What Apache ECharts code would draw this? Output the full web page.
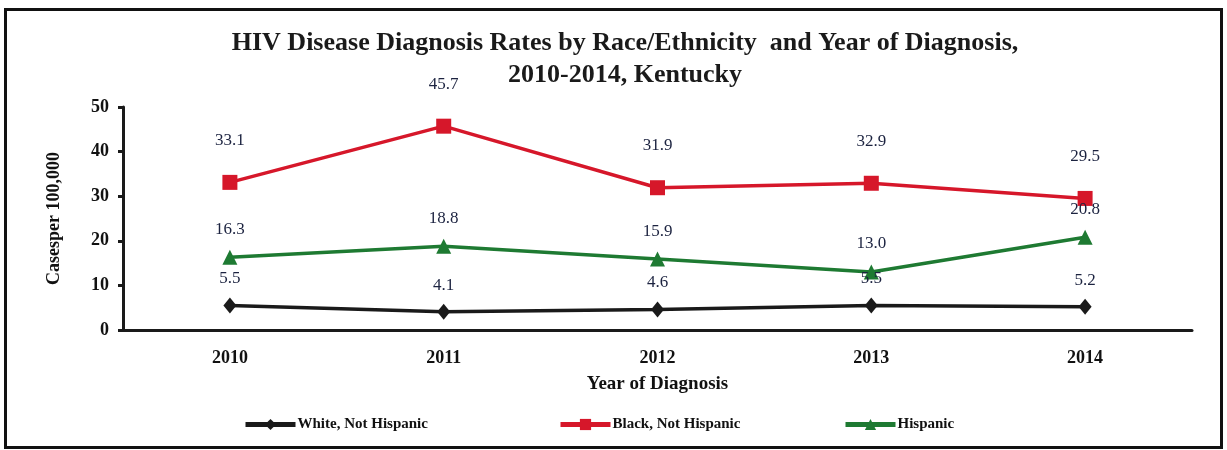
<!DOCTYPE html>
<html>
<head>
<meta charset="utf-8">
<script src="https://cdn.jsdelivr.net/npm/echarts@6/dist/echarts.min.js"></script>
<style>
  html, body { margin: 0; padding: 0; background: #fff; }
  #frame { position: absolute; left: 4px; top: 8px; width: 1213px; height: 435px; border: 3px solid #111; }
  #chart { position: absolute; left: 0; top: 0; width: 1227px; height: 450px; }
</style>
</head>
<body>
<div id="frame"></div>
<div id="chart"></div>
<script>
// Diagnosis years and rates (cases per 100,000)
const years = ['2010', '2011', '2012', '2013', '2014'];
const whiteRates = [5.5, 4.1, 4.6, 5.5, 5.2];
const blackRates = [33.1, 45.7, 31.9, 32.9, 29.5];
const hispanicRates = [16.3, 18.8, 15.9, 13.0, 20.8];
const yTicks = [0, 10, 20, 30, 40, 50];
const seriesNames = ['White, Not Hispanic', 'Black, Not Hispanic', 'Hispanic'];

const serif = '"Liberation Serif", "DejaVu Serif", serif';
const chart = echarts.init(document.getElementById('chart'), null, { renderer: 'canvas' });

function labelCfg(dist) {
  return {
    show: true, position: 'top', distance: dist,
    formatter: p => p.value.toFixed(1),
    color: '#1c2340', fontFamily: serif, fontSize: 17
  };
}

// one legend entry per block, spread across the bottom
const legendLefts = [238, 553, 838];
const legends = seriesNames.map((n, i) => ({
  data: [n], bottom: 13, left: legendLefts[i], itemWidth: 50, itemHeight: 14,
  lineStyle: { width: 5 },
  textStyle: { fontFamily: serif, fontWeight: 'bold', fontSize: 15, color: '#111', padding: [0, 0, 0, -3] }
}));

chart.setOption({
  animation: false,
  title: {
    text: 'HIV Disease Diagnosis Rates by Race/Ethnicity  and Year of Diagnosis,\n2010-2014, Kentucky',
    left: 620, top: 22, textAlign: 'center',
    textStyle: { fontFamily: serif, fontWeight: 'bold', fontSize: 26, lineHeight: 32, color: '#1a1a1a' }
  },
  legend: legends,
  grid: { left: 123, right: 35, top: 107, bottom: 120 },
  xAxis: {
    type: 'category', data: years, boundaryGap: true,
    name: 'Year of Diagnosis', nameLocation: 'middle', nameGap: 45,
    nameTextStyle: { fontFamily: serif, fontWeight: 'bold', fontSize: 19, color: '#111' },
    axisLine: { lineStyle: { color: '#1a1a1a', width: 3 } },
    axisTick: { show: false },
    axisLabel: { fontFamily: serif, fontWeight: 'bold', fontSize: 18, color: '#111', margin: 19 }
  },
  yAxis: {
    type: 'value', min: 0, max: 50, interval: 10,
    name: 'Casesper 100,000', nameLocation: 'middle', nameGap: 60, nameRotate: 90,
    nameTextStyle: { fontFamily: serif, fontWeight: 'bold', fontSize: 18, color: '#111' },
    axisLine: { show: true, lineStyle: { color: '#1a1a1a', width: 3 } },
    axisTick: { show: true, length: 5, lineStyle: { color: '#1a1a1a', width: 3 } },
    splitLine: { show: false },
    axisLabel: { fontFamily: serif, fontWeight: 'bold', fontSize: 18, color: '#111', margin: 14,
      formatter: v => yTicks.includes(v) ? String(v) : '' }
  },
  series: [
    {
      name: seriesNames[0], type: 'line', data: whiteRates,
      symbol: 'diamond', symbolSize: [13, 16],
      lineStyle: { color: '#1a1a1a', width: 3.5 }, itemStyle: { color: '#1a1a1a' },
      label: labelCfg(10)
    },
    {
      name: seriesNames[1], type: 'line', data: blackRates,
      symbol: 'rect', symbolSize: 15,
      lineStyle: { color: '#d6172a', width: 3.5 }, itemStyle: { color: '#d6172a' },
      label: labelCfg(26)
    },
    {
      name: seriesNames[2], type: 'line', data: hispanicRates,
      symbol: 'triangle', symbolSize: 15,
      lineStyle: { color: '#1e7a32', width: 3.5 }, itemStyle: { color: '#1e7a32' },
      label: labelCfg(12)
    }
  ]
});
</script>
</body>
</html>
